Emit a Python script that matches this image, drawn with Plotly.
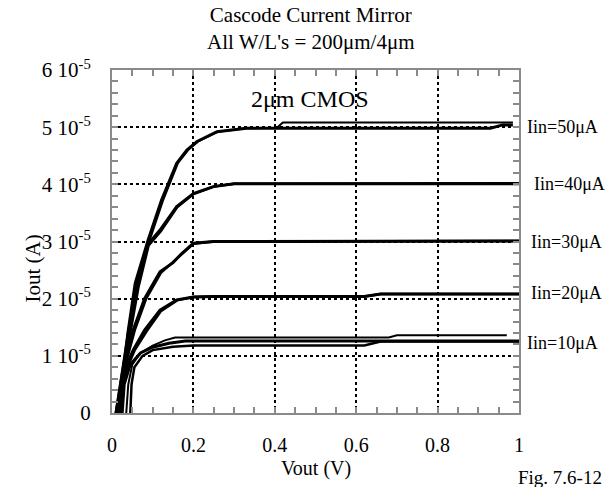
import plotly.graph_objects as go
import numpy as np

# ---- data (Vout in V, Iout in microamps) ----
v_50a = [0.015, 0.04, 0.057, 0.089, 0.122, 0.159, 0.184, 0.209, 0.258, 0.33, 0.4, 0.93, 0.96, 0.985]
i_50a = [0, 14.5, 22.7, 30.3, 37.3, 43.7, 46.0, 47.5, 49.2, 49.8, 49.8, 49.8, 50.4, 50.4]
v_50b = [0.02, 0.045, 0.062, 0.093, 0.126, 0.162, 0.187, 0.212, 0.26, 0.33, 0.405, 0.42, 0.985]
i_50b = [0, 14.5, 22.7, 30.3, 37.3, 43.7, 46.0, 47.5, 49.2, 49.8, 49.9, 50.8, 50.8]

v_40a = [0.01, 0.04, 0.06, 0.088, 0.118, 0.159, 0.2, 0.249, 0.3, 1.0]
i_40a = [0, 14.0, 22.0, 29.5, 32.0, 36.1, 38.4, 39.6, 40.1, 40.1]
v_40b = [0.015, 0.045, 0.065, 0.09, 0.12, 0.16, 0.2, 0.25, 0.3, 1.0]
i_40b = [0, 14.0, 22.0, 29.3, 31.8, 36.0, 38.3, 39.6, 40.1, 40.2]

v_30a = [0.01, 0.03, 0.052, 0.08, 0.118, 0.15, 0.17, 0.2, 0.25, 1.0]
i_30a = [0, 9.0, 14.5, 20.0, 24.7, 26.3, 27.8, 29.7, 30.0, 30.1]
v_30b = [0.015, 0.035, 0.056, 0.084, 0.12, 0.152, 0.175, 0.2, 0.25, 1.0]
i_30b = [0, 9.0, 14.5, 20.0, 24.5, 26.6, 28.0, 29.6, 30.0, 30.1]

v_20a = [0.01, 0.03, 0.052, 0.08, 0.118, 0.159, 0.2, 0.25, 0.62, 0.66, 1.0]
i_20a = [0, 7.5, 11.0, 14.5, 18.0, 19.8, 20.3, 20.4, 20.4, 20.8, 20.8]
v_20b = [0.015, 0.035, 0.056, 0.085, 0.12, 0.16, 0.2, 0.25, 0.62, 0.66, 1.0]
i_20b = [0, 7.5, 11.0, 14.3, 17.8, 19.7, 20.3, 20.4, 20.4, 20.8, 20.8]

v_10a = [0.035, 0.04, 0.05, 0.07, 0.1, 0.13, 0.155, 0.68, 0.70, 0.97]
i_10a = [0, 5.0, 8.5, 10.5, 11.8, 12.7, 13.2, 13.2, 13.6, 13.6]
v_10b = [0.025, 0.03, 0.045, 0.07, 0.1, 0.14, 0.18, 1.0]
i_10b = [0, 5.0, 8.5, 10.5, 11.5, 12.2, 12.6, 12.6]
v_10c = [0.045, 0.048, 0.055, 0.075, 0.1, 0.15, 0.2, 0.62, 0.66, 1.0]
i_10c = [0, 5.0, 8.0, 10.0, 11.0, 11.6, 11.8, 11.8, 12.5, 12.5]

x_ticks = [0, 0.2, 0.4, 0.6, 0.8, 1]
x_tick_labels = ["0", "0.2", "0.4", "0.6", "0.8", "1"]
y_ticks = [0, 1e-5, 2e-5, 3e-5, 4e-5, 5e-5, 6e-5]
y_tick_labels = ["0", "1 10<sup>-5</sup>", "2 10<sup>-5</sup>", "3 10<sup>-5</sup>",
                 "4 10<sup>-5</sup>", "5 10<sup>-5</sup>", "6 10<sup>-5</sup>"]

curve_labels = ["Iin=50μA", "Iin=40μA", "Iin=30μA", "Iin=20μA", "Iin=10μA"]
label_levels = [5.0e-5, 4.0e-5, 3.0e-5, 2.1e-5, 1.22e-5]
label_x = [1.015, 1.032, 1.025, 1.025, 1.015]

series = [
    (v_50a, i_50a, 3.0), (v_50b, i_50b, 2.0),
    (v_40a, i_40a, 3.0), (v_40b, i_40b, 2.5),
    (v_30a, i_30a, 3.0), (v_30b, i_30b, 2.5),
    (v_20a, i_20a, 3.0), (v_20b, i_20b, 2.5),
    (v_10a, i_10a, 2.0), (v_10b, i_10b, 3.0), (v_10c, i_10c, 2.5),
]

FONT = "Liberation Serif"
fig = go.Figure()
for v, i, w in series:
    fig.add_trace(go.Scatter(x=v, y=np.array(i) * 1e-6, mode="lines",
                             line=dict(color="black", width=w), showlegend=False))

axis_common = dict(
    showline=True, linecolor="#8a8a8a", linewidth=2, mirror="allticks",
    ticks="inside", ticklen=6, tickcolor="#8a8a8a", tickwidth=2,
    showgrid=True, gridcolor="black", griddash="dot", gridwidth=2,
    zeroline=False, automargin=False,
)

fig.update_xaxes(range=[0, 1], tickvals=x_ticks, ticktext=x_tick_labels,
                 minor=dict(dtick=0.05, ticks="inside", ticklen=6, tickcolor="#8a8a8a", tickwidth=2, showgrid=False),
                 ticklabelstandoff=13, tickfont=dict(family=FONT, size=20, color="black"), **axis_common)
fig.update_yaxes(range=[0, 6e-5], tickvals=y_ticks, ticktext=y_tick_labels,
                 minor=dict(dtick=2e-6, ticks="inside", ticklen=6, tickcolor="#8a8a8a", tickwidth=2, showgrid=False),
                 ticklabelstandoff=15, tickfont=dict(family=FONT, size=21, color="black"), **axis_common)

annotations = [
    dict(text="Cascode Current Mirror<br>All W/L's = 200μm/4μm", x=0.49, y=1, xref="paper", yref="paper",
         xanchor="center", yanchor="bottom", yshift=14, showarrow=False,
         font=dict(family=FONT, size=21, color="black")),
    dict(text="2μm CMOS", x=0.487, y=5.5e-5, xref="x", yref="y", showarrow=False,
         font=dict(family=FONT, size=24, color="black")),
    dict(text="Iout (A)", x=-0.195, y=0.42, xref="paper", yref="paper", textangle=-90,
         xanchor="center", showarrow=False,
         font=dict(family=FONT, size=21, color="black")),
    dict(text="Vout (V)", x=0.5, y=0, xref="paper", yref="paper", yanchor="middle", yshift=-55,
         showarrow=False, font=dict(family=FONT, size=20, color="black")),
    dict(text="Fig. 7.6-12", x=1.21, y=0, xref="paper", yref="paper", yanchor="middle", yshift=-64,
         showarrow=False, font=dict(family=FONT, size=19, color="black")),
]
for txt, lv, lx in zip(curve_labels, label_levels, label_x):
    annotations.append(dict(text=txt, x=lx, y=lv, xref="paper", yref="y", xanchor="left",
                            showarrow=False, font=dict(family=FONT, size=18, color="black")))

fig.update_layout(
    width=608, height=487,
    margin=dict(l=112, r=89, t=70, b=74),
    paper_bgcolor="white", plot_bgcolor="white",
    annotations=annotations,
    showlegend=False,
)
fig.write_html("out.html", config={"displayModeBar": False},
               post_script="document.body.style.margin='0';")
